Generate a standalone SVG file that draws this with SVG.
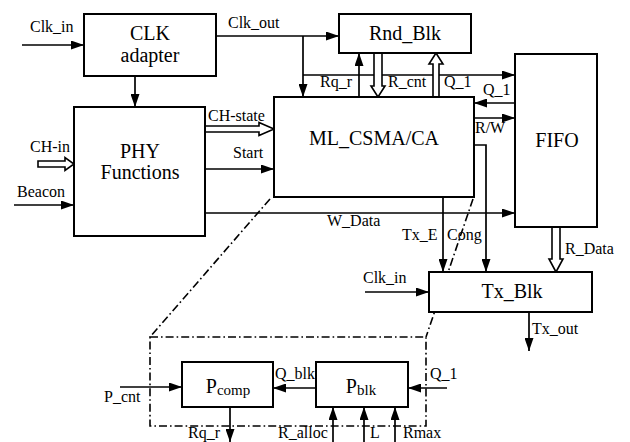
<svg xmlns="http://www.w3.org/2000/svg" width="630" height="442" viewBox="0 0 630 442">
<defs>
<marker id="arr" markerUnits="userSpaceOnUse" markerWidth="13" markerHeight="9" viewBox="0 0 13 9" refX="13" refY="4.5" orient="auto">
<path d="M0,0 L13,4.5 L0,9 z" fill="#000"/>
</marker>
</defs>
<style>
.box{fill:#fff;stroke:#000;stroke-width:2}
.ln{fill:none;stroke:#000;stroke-width:1.7}
.a{fill:none;stroke:#000;stroke-width:1.7;marker-end:url(#arr)}
.hol{fill:#fff;stroke:#000;stroke-width:1.6;stroke-linejoin:miter}
.dd{fill:none;stroke:#000;stroke-width:1.6;stroke-dasharray:8,3,1.6,3}
.big{font-family:"Liberation Serif","Times New Roman",serif;font-size:20px;fill:#000;text-anchor:middle}
.lab{font-family:"Liberation Serif","Times New Roman",serif;font-size:16px;fill:#000}
</style>
<rect width="630" height="442" fill="#fff"/>

<g id="connectors">
<line class="a" x1="22" y1="45" x2="84" y2="45"/>
<line class="a" x1="135" y1="76" x2="135" y2="107"/>
<line class="a" x1="216" y1="36" x2="339" y2="36"/>
<line class="a" x1="303" y1="36" x2="303" y2="97"/>
<line class="a" x1="303" y1="75" x2="515" y2="75"/>
<line class="a" x1="359" y1="97" x2="359" y2="53"/>
<polygon class="hol" points="374,53 374,86 371,86 378,97 385,86 382,86 382,53"/>
<polygon class="hol" points="433,97 433,64 429,64 436,53 443,64 439,64 439,97"/>
<line class="a" x1="515" y1="103" x2="474" y2="103"/>
<line class="a" x1="474" y1="118" x2="515" y2="118"/>
<polyline class="a" points="474,145 486,145 486,272"/>
<line class="a" x1="443" y1="197" x2="443" y2="272"/>
<polygon class="hol" points="552,227 552,259 549,259 556,272 563,259 560,259 560,227"/>
<polygon class="hol" points="205,126 259,126 259,122.5 274,129 259,135.5 259,132 205,132"/>
<line class="a" x1="205" y1="169" x2="274" y2="169"/>
<line class="a" x1="205" y1="213" x2="515" y2="213"/>
<polygon class="hol" points="38,161 65,161 65,157.5 74,164 65,170.5 65,167 38,167"/>
<line class="a" x1="14" y1="205" x2="74" y2="205"/>
<line class="a" x1="365" y1="292" x2="429" y2="292"/>
<line class="a" x1="529" y1="312" x2="529" y2="351"/>
<line class="a" x1="120" y1="387" x2="182" y2="387"/>
<line class="a" x1="316" y1="388" x2="273" y2="388"/>
<line class="a" x1="447" y1="388" x2="408" y2="388"/>
<line class="a" x1="230" y1="407" x2="230" y2="442"/>
<line class="a" x1="333" y1="442" x2="333" y2="407"/>
<line class="a" x1="364" y1="442" x2="364" y2="407"/>
<line class="a" x1="395" y1="442" x2="395" y2="407"/>
<line class="dd" x1="270" y1="199" x2="150" y2="337"/>
<line class="dd" x1="473" y1="199" x2="426" y2="337"/>
<rect class="dd" x="150" y="337" width="276" height="89"/>
</g>

<g id="clk_adapter">
<rect class="box" x="84" y="14" width="132" height="62"/>
<text class="big" x="150" y="40">CLK</text>
<text class="big" x="150" y="62">adapter</text>
</g>
<g id="rnd_blk">
<rect class="box" x="339" y="14" width="132" height="39"/>
<text class="big" x="405" y="40">Rnd_Blk</text>
</g>
<g id="phy">
<rect class="box" x="74" y="107" width="131" height="129"/>
<text class="big" x="140" y="158">PHY</text>
<text class="big" x="140" y="179">Functions</text>
</g>
<g id="ml_csma">
<rect class="box" x="274" y="97" width="200" height="100"/>
<text class="big" x="374" y="145">ML_CSMA/CA</text>
</g>
<g id="fifo">
<rect class="box" x="515" y="54" width="82" height="173"/>
<text class="big" x="557" y="147">FIFO</text>
</g>
<g id="tx_blk">
<rect class="box" x="429" y="272" width="163" height="40"/>
<text class="big" x="512" y="298">Tx_Blk</text>
</g>
<g id="pcomp">
<rect class="box" x="182" y="362" width="91" height="45"/>
<text class="big" x="228" y="393">P<tspan font-size="15" dy="2">comp</tspan></text>
</g>
<g id="pblk">
<rect class="box" x="316" y="362" width="92" height="45"/>
<text class="big" x="361" y="393">P<tspan font-size="15" dy="2">blk</tspan></text>
</g>

<g id="labels">
<text class="lab" x="30" y="32">Clk_in</text>
<text class="lab" x="228" y="28">Clk_out</text>
<text class="lab" x="320" y="87">Rq_r</text>
<text class="lab" x="388" y="87">R_cnt</text>
<text class="lab" x="444" y="87">Q_1</text>
<text class="lab" x="483" y="95">Q_1</text>
<text class="lab" x="475" y="133">R/W</text>
<text class="lab" x="208" y="121">CH-state</text>
<text class="lab" x="233" y="158">Start</text>
<text class="lab" x="30" y="152">CH-in</text>
<text class="lab" x="17" y="197">Beacon</text>
<text class="lab" x="327" y="226">W_Data</text>
<text class="lab" x="402" y="240">Tx_E</text>
<text class="lab" x="447" y="240">Cong</text>
<text class="lab" x="565" y="254">R_Data</text>
<text class="lab" x="363" y="283">Clk_in</text>
<text class="lab" x="532" y="334">Tx_out</text>
<text class="lab" x="275" y="379">Q_blk</text>
<text class="lab" x="430" y="379">Q_1</text>
<text class="lab" x="104" y="402">P_cnt</text>
<text class="lab" x="188" y="438">Rq_r</text>
<text class="lab" x="278" y="438">R_alloc</text>
<text class="lab" x="370" y="438">L</text>
<text class="lab" x="403" y="438">Rmax</text>
</g>
</svg>
